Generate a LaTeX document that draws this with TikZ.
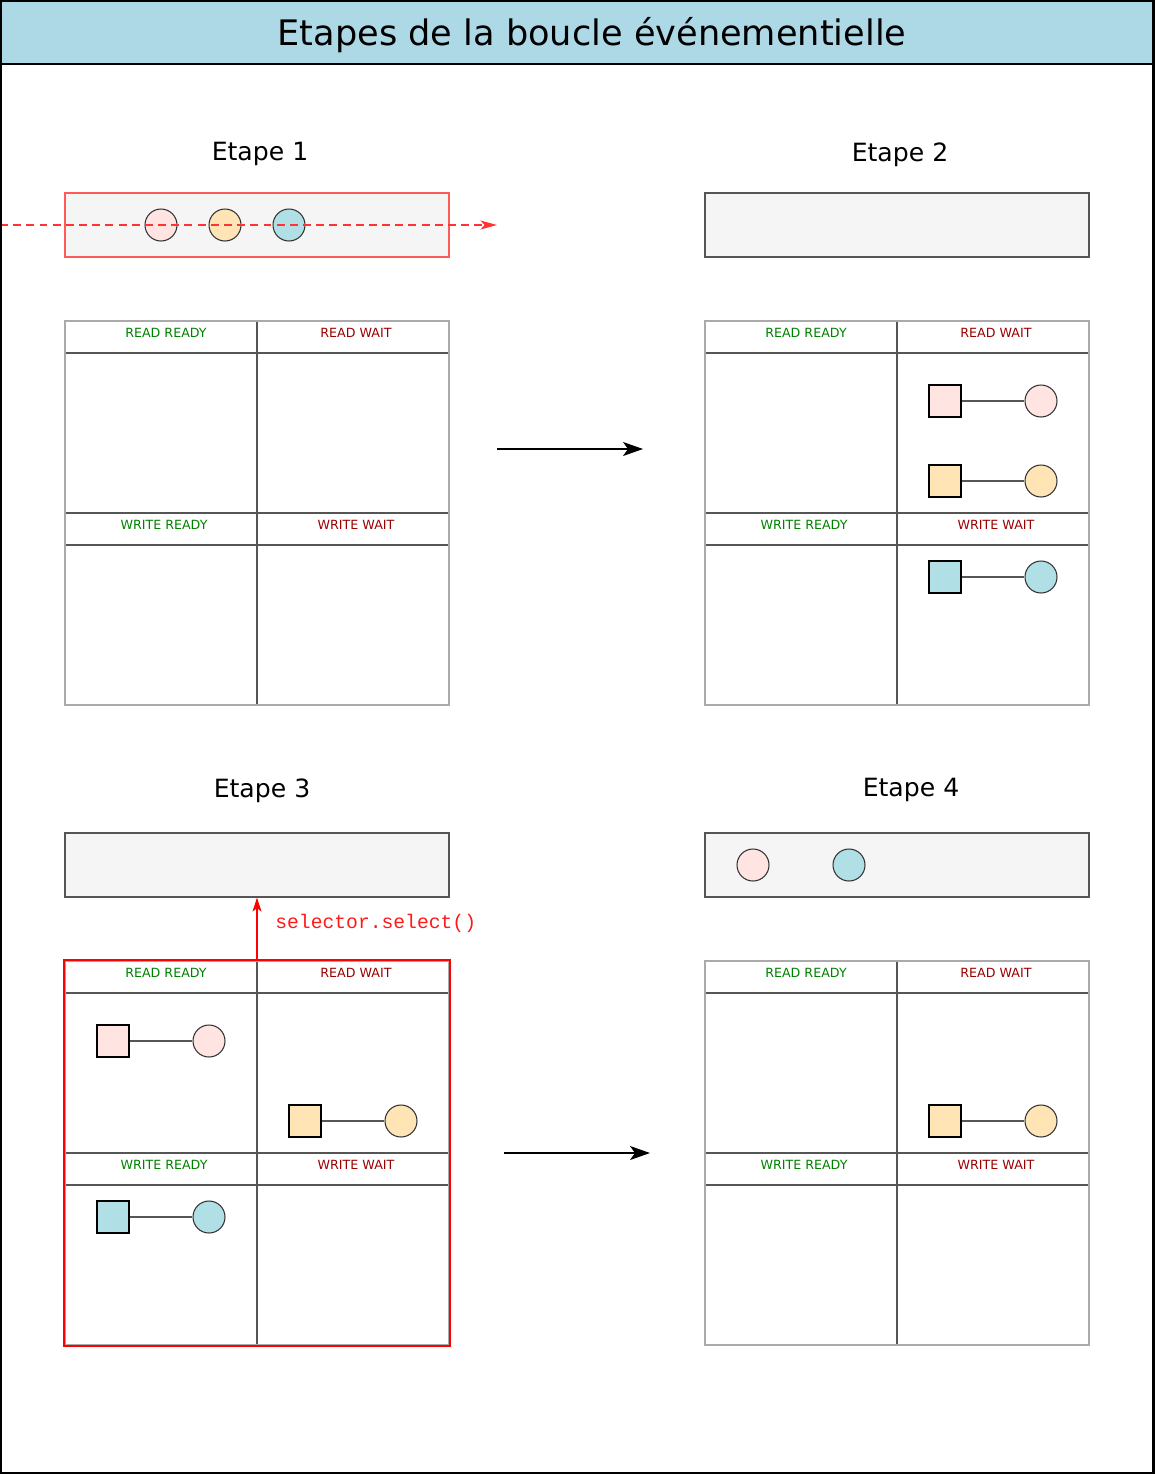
\documentclass[tikz,border=0pt]{standalone}
\usepackage{fontspec}
\setmainfont{DejaVu Sans}
\setmonofont{Liberation Mono}
\usetikzlibrary{arrows.meta}
\usetikzlibrary{positioning}

\definecolor{titlebg}{HTML}{ADD8E6}
\definecolor{queuebg}{HTML}{F5F5F5}
\definecolor{fdpink}{HTML}{FFE4E1}
\definecolor{fdorange}{HTML}{FFE4B5}
\definecolor{fdblue}{HTML}{B0E0E6}
\definecolor{readygreen}{HTML}{008000}
\definecolor{waitred}{HTML}{990000}
\definecolor{gridgrey}{HTML}{AAAAAA}
\definecolor{linegrey}{HTML}{555555}

\begin{document}
\begin{tikzpicture}[x=0.02cm,y=-0.02cm,
  maintitle/.style={font=\fontsize{20}{24}\selectfont,anchor=base,inner sep=0pt},
  steptitle/.style={font=\fontsize{14.3}{17}\selectfont},
  queue/.style={draw=linegrey,fill=queuebg,line width=0.7pt,minimum width=7.68cm,minimum height=1.28cm,inner sep=0pt},
  gridbox/.style={draw=gridgrey,line width=0.8pt,minimum size=7.68cm,inner sep=0pt},
  cell/.style={linegrey,line width=0.6pt},
  lbl/.style={font=\fontsize{7.2}{8}\selectfont,inner sep=0pt,anchor=base},
  fdcirc/.style={circle,draw=black!80,line width=0.6pt,minimum size=0.64cm,inner sep=0pt},
  fdsq/.style={draw=black,line width=1.1pt,minimum size=0.64cm,inner sep=0pt},
  link/.style={linegrey,line width=0.6pt},
  flow/.style={line width=0.7pt,-{Stealth[length=0.4cm,width=0.28cm,inset=0.1cm]}}]

\useasboundingbox (0,0) rectangle (1154,1474);

% title band
\fill[titlebg] (0,0) rectangle (1154,64);
\draw[line width=0.8pt] (0,64) -- (1154,64);
\node[maintitle] (title) at (592,45) {Etapes de la boucle événementielle};

% step titles
\node[steptitle] (t1) at (260,154) {Etape 1};
\node[steptitle] (t2) at (900,155) {Etape 2};
\node[steptitle] (t3) at (262,791) {Etape 3};
\node[steptitle] (t4) at (911,790) {Etape 4};

% queues
\node[queue,draw=red!65] (q1) at (257,225) {};
\node[queue] (q2) at (897,225) {};
\node[queue] (q3) at (257,865) {};
\node[queue] (q4) at (897,865) {};

% grids
\foreach \gx/\gy/\n in {65/321/1,705/321/2,65/961/3,705/961/4}{
  \draw[cell] (\gx+192,\gy) -- (\gx+192,\gy+384);
  \draw[cell] (\gx,\gy+32) -- (\gx+384,\gy+32);
  \draw[cell] (\gx,\gy+192) -- (\gx+384,\gy+192);
  \draw[cell] (\gx,\gy+224) -- (\gx+384,\gy+224);
  \node[gridbox] (g\n) at (\gx+192,\gy+192) {};
  \node[lbl,readygreen] at (\gx+101,\gy+16) {READ READY};
  \node[lbl,waitred] at (\gx+291,\gy+16) {READ WAIT};
  \node[lbl,readygreen] at (\gx+99,\gy+208) {WRITE READY};
  \node[lbl,waitred] at (\gx+291,\gy+208) {WRITE WAIT};
}
\draw[red,line width=1pt] (g3.north west) rectangle (g3.south east);

%Etape 1
\node[fdcirc,fill=fdpink] (c1a) at (161,225) {};
\node[fdcirc,fill=fdorange] (c1b) at (225,225) {};
\node[fdcirc,fill=fdblue] (c1c) at (289,225) {};
\coordinate (d1s) at (0,225);
\coordinate (d1e) at (497,225);
\draw[red!80,line width=0.7pt,dash pattern=on 4.5pt off 3pt,-{Stealth[length=0.33cm,width=0.18cm,inset=0.08cm]}] (d1s) -- (d1e);

%Etape 2
\node[fdsq,fill=fdpink] (s2a) at (945,401) {};
\node[fdcirc,fill=fdpink] (c2a) at (1041,401) {};
\node[fdsq,fill=fdorange] (s2b) at (945,481) {};
\node[fdcirc,fill=fdorange] (c2b) at (1041,481) {};
\node[fdsq,fill=fdblue] (s2c) at (945,577) {};
\node[fdcirc,fill=fdblue] (c2c) at (1041,577) {};
\draw[link] (s2a) -- (c2a);
\draw[link] (s2b) -- (c2b);
\draw[link] (s2c) -- (c2c);

%Etape 3
\node[fdsq,fill=fdpink] (s3a) at (113,1041) {};
\node[fdcirc,fill=fdpink] (c3a) at (209,1041) {};
\node[fdsq,fill=fdorange] (s3b) at (305,1121) {};
\node[fdcirc,fill=fdorange] (c3b) at (401,1121) {};
\node[fdsq,fill=fdblue] (s3c) at (113,1217) {};
\node[fdcirc,fill=fdblue] (c3c) at (209,1217) {};
\draw[link] (s3a) -- (c3a);
\draw[link] (s3b) -- (c3b);
\draw[link] (s3c) -- (c3c);
\draw[red,line width=0.7pt,-{Stealth[length=0.28cm,width=0.18cm,inset=0.07cm]}] (g3.north) -- (q3.south);
\node[anchor=base west,inner sep=0pt,red!90,font=\fontsize{11.2}{13}\ttfamily] (sel) at (275,928) {selector.select()};

%Etape 4
\node[fdcirc,fill=fdpink] (c4a) at (753,865) {};
\node[fdcirc,fill=fdblue] (c4c) at (849,865) {};
\node[fdsq,fill=fdorange] (s4b) at (945,1121) {};
\node[fdcirc,fill=fdorange] (c4b) at (1041,1121) {};
\draw[link] (s4b) -- (c4b);

% steps
\coordinate (a1s) at (497,449);
\coordinate (a1e) at (643,449);
\draw[flow] (a1s) -- (a1e);
\coordinate (a2s) at (504,1153);
\coordinate (a2e) at (650,1153);
\draw[flow] (a2s) -- (a2e);

% frame
\draw[line width=2pt] (0,0) rectangle (1154,1474);

\end{tikzpicture}
\end{document}
